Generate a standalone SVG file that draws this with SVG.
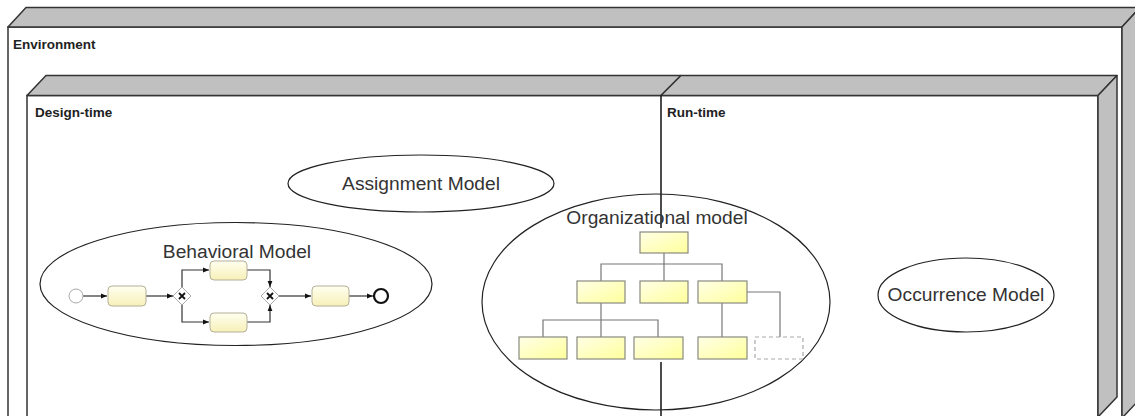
<svg xmlns="http://www.w3.org/2000/svg" width="1135" height="416" viewBox="0 0 1135 416">
<style>
.face{fill:#c0c0c0;stroke:#333;stroke-width:1.5;stroke-linejoin:round}
.front{fill:#fff;stroke:#333;stroke-width:1.5}
.lbl{font-family:"Liberation Sans",Arial,sans-serif;font-weight:bold;font-size:13.5px;fill:#222}
.ell{fill:none;stroke:#222;stroke-width:1.2}
.etxt{font-family:"Liberation Sans",Arial,sans-serif;font-size:19.2px;fill:#333;text-anchor:middle}
.task{fill:url(#tg);stroke:#b4b09a;stroke-width:1}
.org{fill:url(#og);stroke:#8a8a80;stroke-width:1.2}
.flow{fill:none;stroke:#333;stroke-width:1.2}
.oc{fill:none;stroke:#777;stroke-width:1.2}
.gw{fill:#fff;stroke:#aaa;stroke-width:1}
.gx{fill:none;stroke:#111;stroke-width:1.8}
</style>
<defs>
<linearGradient id="tg" x1="0" y1="0" x2="0" y2="1"><stop offset="0" stop-color="#fffff0"/><stop offset="1" stop-color="#f7f0b8"/></linearGradient>
<linearGradient id="og" x1="0" y1="0" x2="1" y2="1"><stop offset="0" stop-color="#ffffe6"/><stop offset="1" stop-color="#ffff9c"/></linearGradient>
<marker id="ah" viewBox="0 0 10 10" refX="10" refY="5" markerWidth="6" markerHeight="6" orient="auto" markerUnits="userSpaceOnUse"><path d="M0,1 L10,5 L0,9 z" fill="#111"/></marker>
</defs>

<g id="environment">
<rect class="front" x="8" y="27" width="1114" height="400"/>
<polygon class="face" points="8,27 26,7.5 1140,7.5 1122,27"/>
<polygon class="face" points="1122,27 1140,7.5 1140,399 1122,418"/>
<text class="lbl" x="13" y="49">Environment</text>
</g>

<g id="design-time">
<rect x="27" y="95.5" width="634" height="330" fill="#fff" stroke="none"/>
<path d="M27,430 V95.5 H661" fill="none" stroke="#333" stroke-width="1.5"/>
<polygon class="face" points="27,95.5 46,75.5 681,75.5 661,95.5"/>
<text class="lbl" x="35" y="117">Design-time</text>
</g>

<g id="run-time">
<rect x="661" y="95.5" width="437" height="330" fill="#fff" stroke="none"/>
<path d="M661,95.5 H1098 V430" fill="none" stroke="#333" stroke-width="1.5"/>
<polygon class="face" points="661,95.5 681,75.5 1117,75.5 1098,95.5"/>
<polygon class="face" points="1098,95.5 1117,75.5 1117,397 1098,417"/>
<text class="lbl" x="667" y="117">Run-time</text>
</g>

<g id="connectors">
<line x1="661" y1="95.5" x2="661" y2="228" stroke="#111" stroke-width="1.5"/>
<line x1="661" y1="362" x2="661" y2="420" stroke="#111" stroke-width="1.5"/>
<line class="flow" x1="83" y1="296" x2="107" y2="296" marker-end="url(#ah)"/>
<line class="flow" x1="146" y1="296" x2="173" y2="296" marker-end="url(#ah)"/>
<polyline class="flow" points="182,287 182,270 209,270" marker-end="url(#ah)"/>
<polyline class="flow" points="182,305 182,322 209,322" marker-end="url(#ah)"/>
<polyline class="flow" points="247,270 270,270 270,287" marker-end="url(#ah)"/>
<polyline class="flow" points="247,322 270,322 270,305" marker-end="url(#ah)"/>
<line class="flow" x1="279" y1="296" x2="311" y2="296" marker-end="url(#ah)"/>
<line class="flow" x1="349" y1="296" x2="373" y2="296" marker-end="url(#ah)"/>
<polyline class="oc" points="664,253 664,281"/>
<polyline class="oc" points="601,281 601,264 722,264 722,281"/>
<polyline class="oc" points="601,303 601,337"/>
<polyline class="oc" points="543,337 543,320 658,320 658,337"/>
<polyline class="oc" points="722,303 722,337"/>
<polyline class="oc" points="747,292 780,292 780,337"/>
</g>

<g id="assignment-model">
<ellipse class="ell" cx="421" cy="183.5" rx="133" ry="28.5"/>
<text class="etxt" x="421" y="190">Assignment Model</text>
</g>

<g id="behavioral-model">
<ellipse class="ell" cx="236" cy="284" rx="196" ry="61.5"/>
<text class="etxt" x="237" y="258">Behavioral Model</text>
<circle cx="76" cy="296" r="7" fill="#fff" stroke="#aaa" stroke-width="1"/>
<rect class="task" x="108" y="286" width="38" height="20" rx="4"/>
<rect class="task" x="210" y="261" width="37" height="19" rx="4"/>
<rect class="task" x="210" y="313" width="37" height="19" rx="4"/>
<rect class="task" x="312" y="286" width="37" height="20" rx="4"/>
<polygon class="gw" points="182,287 191,296 182,305 173,296"/>
<path class="gx" d="M179,293 L185,299 M185,293 L179,299"/>
<polygon class="gw" points="270,287 279,296 270,305 261,296"/>
<path class="gx" d="M267,293 L273,299 M273,293 L267,299"/>
<circle cx="381" cy="296" r="7" fill="#fff" stroke="#111" stroke-width="2.2"/>
</g>

<g id="organizational-model">
<ellipse class="ell" cx="656" cy="302" rx="174" ry="108"/>
<text class="etxt" x="657" y="224">Organizational model</text>
<rect class="org" x="640" y="232" width="48" height="21" stroke="#555"/>
<rect class="org" x="577" y="281" width="48" height="22"/>
<rect class="org" x="640" y="281" width="48" height="22"/>
<rect class="org" x="698" y="281" width="49" height="22"/>
<rect class="org" x="519" y="337" width="48" height="22"/>
<rect class="org" x="577" y="337" width="48" height="22"/>
<rect class="org" x="634" y="337" width="49" height="22"/>
<rect class="org" x="698" y="337" width="49" height="22"/>
<rect x="755" y="337" width="48" height="22" fill="#fff" stroke="#aaa" stroke-width="1.2" stroke-dasharray="4,3"/>
</g>

<g id="occurrence-model">
<ellipse class="ell" cx="966" cy="295" rx="88" ry="37"/>
<text class="etxt" x="966" y="301">Occurrence Model</text>
</g>
</svg>
